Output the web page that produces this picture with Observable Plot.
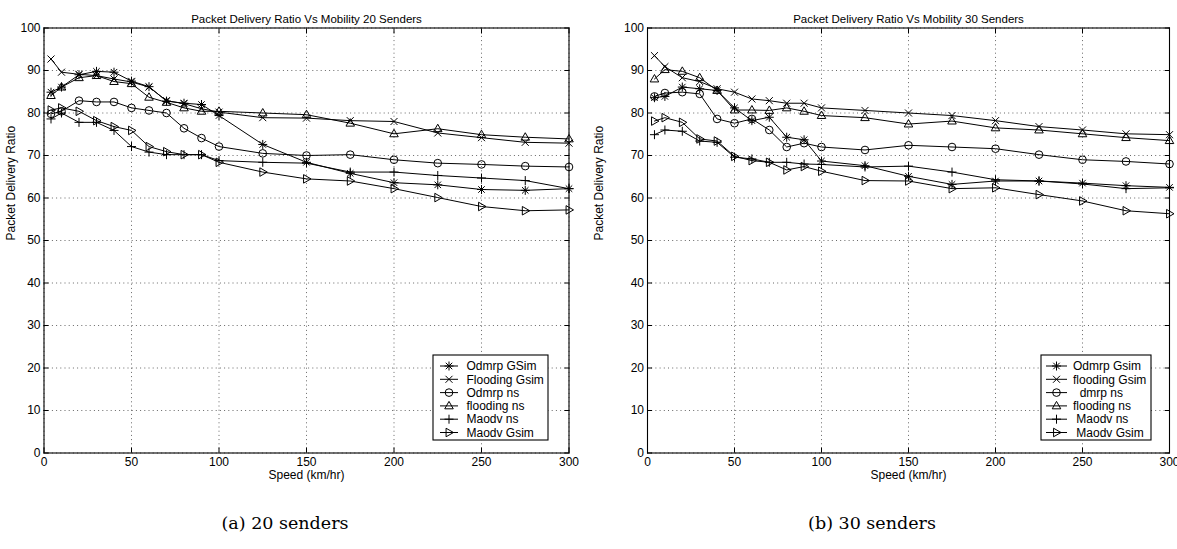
<!DOCTYPE html>
<html>
<head>
<meta charset="utf-8">
<script src="https://cdn.jsdelivr.net/npm/d3@7"></script>
<script src="https://cdn.jsdelivr.net/npm/@observablehq/plot@0.6"></script>
<style>
  body { margin: 0; background: #fff; }
  #wrap { position: relative; width: 1177px; height: 549px; overflow: hidden; background: #fff; }
  .panel { position: absolute; top: 0; }
  .caption { position: absolute; top: 513px; width: 300px; text-align: center;
             font-family: "DejaVu Serif", "Liberation Serif", serif; font-size: 17.5px; color: #000; }
</style>
</head>
<body>
<div id="wrap"></div>
<script>
// ---------------- data ----------------
const speeds = [4, 10, 20, 30, 40, 50, 60, 70, 80, 90, 100, 125, 150, 175, 200, 225, 250, 275, 300];
const xTicks = [0, 50, 100, 150, 200, 250, 300];
const yTicks = [0, 10, 20, 30, 40, 50, 60, 70, 80, 90, 100];

const title20 = "Packet Delivery Ratio Vs Mobility 20 Senders";
const title30 = "Packet Delivery Ratio Vs Mobility 30 Senders";
const xLabel = "Speed (km/hr)";
const yLabel = "Packet Delivery Ratio";
const caption20 = "(a) 20 senders";
const caption30 = "(b) 30 senders";

const names20 = ["Odmrp GSim", "Flooding Gsim", "Odmrp ns", "flooding ns", "Maodv ns", "Maodv Gsim"];
const names30 = ["Odmrp Gsim", "flooding Gsim", "  dmrp ns", "flooding ns", " Maodv ns", " Maodv Gsim"];

// 20 senders
const odmrpGsim20    = [84.9, 86.1, 89.0, 89.8, 89.6, 87.5, 86.2, 82.8, 82.3, 82.0, 79.4, 72.6, 68.4, 65.8, 63.6, 63.1, 62.0, 61.8, 62.2];
const floodingGsim20 = [92.7, 89.6, 89.1, 88.8, 88.0, 87.3, 86.1, 82.9, 82.2, 81.0, 80.2, 78.9, 78.8, 78.2, 78.0, 75.3, 74.2, 73.1, 72.9];
const odmrpNs20      = [79.8, 80.4, 82.9, 82.6, 82.6, 81.2, 80.6, 80.0, 76.4, 74.1, 72.1, 70.5, 70.0, 70.2, 69.0, 68.2, 67.9, 67.5, 67.3];
const floodingNs20   = [84.1, 86.1, 88.3, 88.8, 87.4, 86.9, 83.7, 82.5, 81.2, 80.4, 80.4, 80.0, 79.6, 77.6, 75.1, 76.3, 74.9, 74.3, 73.9];
const maodvNs20      = [78.6, 80.0, 77.8, 77.8, 75.9, 72.1, 70.8, 70.2, 70.2, 70.2, 68.8, 68.4, 68.2, 66.1, 66.1, 65.3, 64.7, 64.1, 62.2];
const maodvGsim20    = [80.7, 81.2, 80.4, 78.2, 76.8, 75.9, 72.1, 70.9, 70.2, 70.2, 68.4, 66.1, 64.5, 64.0, 62.2, 60.1, 58.0, 57.0, 57.2];

// 30 senders
const odmrpGsim30    = [83.6, 83.9, 86.1, 85.7, 85.3, 81.2, 78.2, 79.0, 74.3, 73.7, 68.7, 67.6, 65.1, 63.2, 64.0, 64.0, 63.5, 62.9, 62.5];
const floodingGsim30 = [93.5, 90.9, 88.3, 87.4, 85.7, 84.9, 83.3, 82.9, 82.3, 82.3, 81.2, 80.6, 80.0, 79.4, 78.2, 76.8, 76.0, 75.1, 74.9];
const dmrpNs30       = [83.9, 84.7, 84.9, 84.5, 78.6, 77.6, 78.6, 76.0, 72.0, 72.9, 72.0, 71.3, 72.4, 72.0, 71.6, 70.2, 69.0, 68.6, 68.0];
const floodingNs30   = [88.0, 90.2, 89.8, 88.3, 85.3, 80.7, 80.7, 80.6, 81.2, 80.4, 79.4, 78.9, 77.4, 78.1, 76.5, 76.0, 75.1, 74.2, 73.5];
const maodvNs30      = [74.9, 76.0, 75.7, 73.4, 73.1, 69.6, 69.2, 68.4, 68.4, 68.0, 67.9, 67.3, 67.5, 66.1, 64.3, 64.0, 63.3, 62.2, 62.4];
const maodvGsim30    = [78.1, 78.9, 77.8, 73.9, 73.4, 69.8, 68.8, 68.4, 66.6, 67.4, 66.3, 64.1, 64.0, 62.2, 62.4, 60.8, 59.3, 57.0, 56.3];

// ---------------- marker symbols (MATLAB style) ----------------
const rad = size => Math.sqrt(size / Math.PI);
const symAsterisk = { draw(c, s) { const r = rad(s), d = r * 0.72;
  c.moveTo(-r, 0); c.lineTo(r, 0); c.moveTo(0, -r); c.lineTo(0, r);
  c.moveTo(-d, -d); c.lineTo(d, d); c.moveTo(-d, d); c.lineTo(d, -d); } };
const symTimes = { draw(c, s) { const d = rad(s) * 0.78;
  c.moveTo(-d, -d); c.lineTo(d, d); c.moveTo(-d, d); c.lineTo(d, -d); } };
const symCircle = { draw(c, s) { const r = rad(s) * 0.85;
  c.moveTo(r, 0); c.arc(0, 0, r, 0, 2 * Math.PI); } };
const symTriUp = { draw(c, s) { const r = rad(s);
  c.moveTo(0, -r); c.lineTo(r * 0.95, r * 0.65); c.lineTo(-r * 0.95, r * 0.65); c.closePath(); } };
const symPlus = { draw(c, s) { const r = rad(s);
  c.moveTo(-r, 0); c.lineTo(r, 0); c.moveTo(0, -r); c.lineTo(0, r); } };
const symTriRight = { draw(c, s) { const r = rad(s);
  c.moveTo(r, 0); c.lineTo(-r * 0.65, -r * 0.95); c.lineTo(-r * 0.65, r * 0.95); c.closePath(); } };
const symbols = [symAsterisk, symTimes, symCircle, symTriUp, symPlus, symTriRight];
const markR = 4.5;

// ---------------- panel builder ----------------
function makePanel({ title, names, series, left, width, marginLeft, marginRight, legendW, legendRight, lineX0, lineX1, textX }) {
  const rows = names.map((name, i) => speeds.map((s, j) => ({ series: name, speed: s, value: series[i][j], k: i }))).flat();
  const grid = { stroke: "#000", strokeOpacity: 0.75, strokeDasharray: "1,3.2", strokeWidth: 0.8 };
  const marks = [
    Plot.gridX(xTicks, grid),
    Plot.gridY(yTicks, grid),
    Plot.line(rows, { x: "speed", y: "value", z: "series", stroke: "#000", strokeWidth: 1 }),
    ...names.map((name, i) => Plot.dot(rows.filter(d => d.k === i),
      { x: "speed", y: "value", symbol: symbols[i], r: markR, stroke: "#000", fill: "none", strokeWidth: 1 })),
    Plot.frame({ stroke: "#000", strokeWidth: 1.1 }),
    Plot.axisX(xTicks, { anchor: "bottom", tickSize: -5, tickPadding: 9, fontSize: 12, label: null }),
    Plot.axisX(xTicks, { anchor: "top", tickSize: -5, tickFormat: () => "", label: null }),
    Plot.axisY(yTicks, { anchor: "left", tickSize: -5, tickPadding: 8.5, fontSize: 12, label: null }),
    Plot.axisY(yTicks, { anchor: "right", tickSize: -5, tickFormat: () => "", label: null }),
    Plot.text([title], { text: d => d, frameAnchor: "top", dy: -13, fontSize: 11.5 }),
    Plot.text([xLabel], { text: d => d, frameAnchor: "bottom", dy: 26, fontSize: 12 }),
    Plot.text([yLabel], { text: d => d, frameAnchor: "left", rotate: -90, dx: -(marginLeft - 10.5), fontSize: 12 })
  ];
  const svg = Plot.plot({
    width, height: 490,
    marginLeft, marginRight, marginTop: 27.5, marginBottom: 37.5,
    x: { domain: [0, 300] },
    y: { domain: [0, 100] },
    style: { fontFamily: "'Liberation Sans', Arial, Helvetica, sans-serif", fontSize: "12px", color: "#000", background: "#fff" },
    marks
  });
  svg.classList.add("panel");
  svg.style.left = left + "px";

  // legend (inside plot, lower right)
  const xr = svg.scale("x").range, yr = svg.scale("y").range;
  const right = xr[1] - legendRight, bottom = yr[0] - 12.5, top = bottom - 85;
  const g = d3.select(svg).append("g").attr("class", "legend").attr("text-anchor", "start");
  g.append("rect").attr("x", right - legendW).attr("y", top).attr("width", legendW).attr("height", 85)
    .attr("fill", "#fff").attr("stroke", "#000").attr("stroke-width", 1.1);
  names.forEach((name, i) => {
    const cy = top + 11 + i * 13.3;
    const x0 = right - legendW;
    g.append("line").attr("x1", x0 + lineX0).attr("x2", x0 + lineX1).attr("y1", cy).attr("y2", cy)
      .attr("stroke", "#000").attr("stroke-width", 1);
    g.append("path").attr("d", d3.symbol(symbols[i], Math.PI * markR * markR)())
      .attr("transform", `translate(${x0 + (lineX0 + lineX1) / 2},${cy})`)
      .attr("fill", "none").attr("stroke", "#000").attr("stroke-width", 1);
    g.append("text").attr("x", x0 + textX).attr("y", cy).attr("dy", "0.35em")
      .attr("text-anchor", "start").attr("font-size", 12).attr("fill", "#000")
      .style("white-space", "pre").text(name);
  });
  return svg;
}

const wrap = document.getElementById("wrap");
wrap.appendChild(makePanel({
  title: title20, names: names20,
  series: [odmrpGsim20, floodingGsim20, odmrpNs20, floodingNs20, maodvNs20, maodvGsim20],
  left: 0, width: 588, marginLeft: 43.5, marginRight: 19.5,
  legendW: 115, legendRight: 20.5, lineX0: 7, lineX1: 25, textX: 33.5
}));
wrap.appendChild(makePanel({
  title: title30, names: names30,
  series: [odmrpGsim30, floodingGsim30, dmrpNs30, floodingNs30, maodvNs30, maodvGsim30],
  left: 588, width: 589, marginLeft: 59, marginRight: 8,
  legendW: 110, legendRight: 18, lineX0: 5, lineX1: 26, textX: 32
}));

const c1 = document.createElement("div");
c1.className = "caption"; c1.style.left = (285 - 150) + "px"; c1.textContent = caption20;
const c2 = document.createElement("div");
c2.className = "caption"; c2.style.left = (872 - 150) + "px"; c2.textContent = caption30;
wrap.appendChild(c1); wrap.appendChild(c2);
</script>
</body>
</html>
